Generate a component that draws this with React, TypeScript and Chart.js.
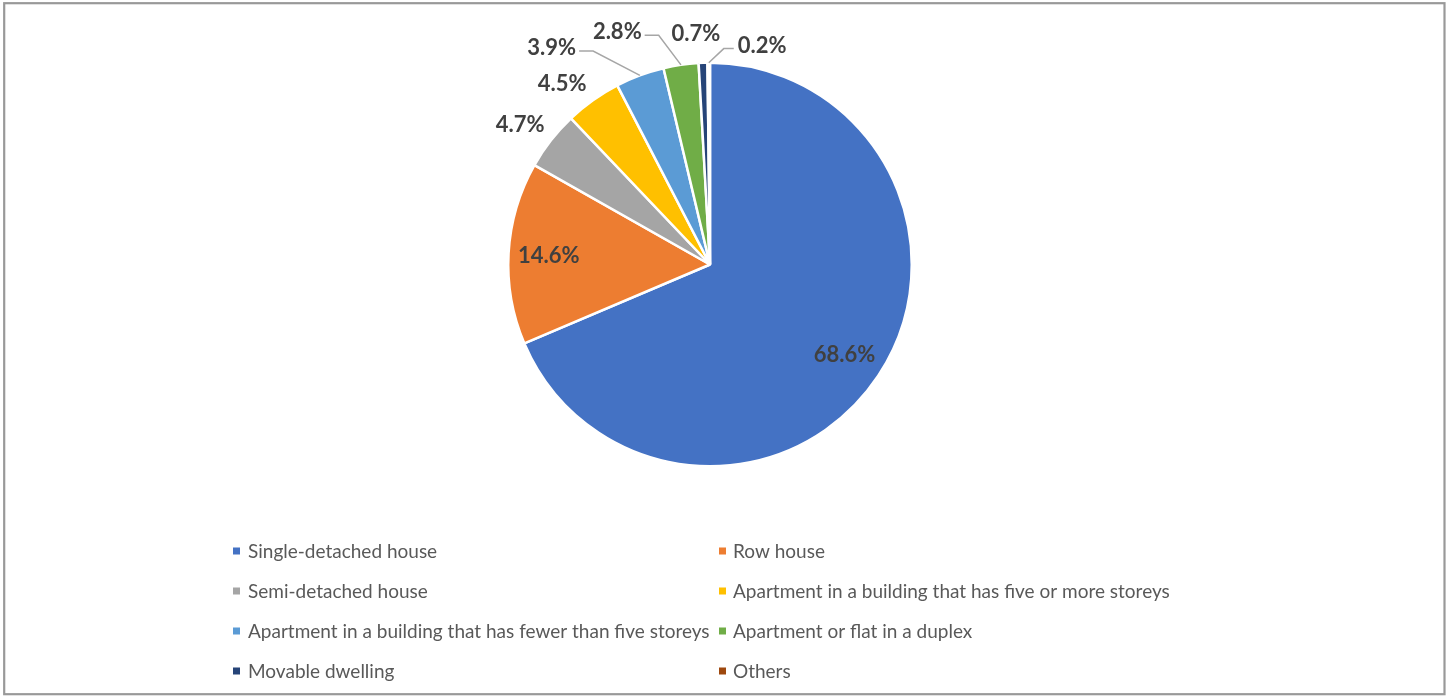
import React, { useEffect, useRef } from "react";
import { Chart, registerables } from "chart.js";

Chart.register(...registerables);

const categories: string[] = [
  "Single-detached house",
  "Row house",
  "Semi-detached house",
  "Apartment in a building that has five or more storeys",
  "Apartment in a building that has fewer than five storeys",
  "Apartment or flat in a duplex",
  "Movable dwelling",
  "Others",
];
const shares: number[] = [68.6, 14.6, 4.7, 4.5, 3.9, 2.8, 0.7, 0.2];
const colors: string[] = [
  "#4472C4",
  "#ED7D31",
  "#A5A5A5",
  "#FFC000",
  "#5B9BD5",
  "#70AD47",
  "#264478",
  "#9E480E",
];

// label placement (style/layout): inside fraction of radius, or outside with angle nudge (deg) and distance (px)
type LabelPlace =
  | { mode: "in"; frac: number }
  | { mode: "out"; nudge: number; dist: number; leader?: "left" | "right" };
const labelPlaces: LabelPlace[] = [
  { mode: "in", frac: 0.8 },
  { mode: "in", frac: 0.8 },
  { mode: "out", nudge: -1.5, dist: 236 },
  { mode: "out", nudge: -3.7, dist: 234 },
  { mode: "out", nudge: -15.7, dist: 269, leader: "left" },
  { mode: "out", nudge: -13.4, dist: 251, leader: "left" },
  { mode: "out", nudge: -1.5, dist: 232 },
  { mode: "out", nudge: 13.7, dist: 226, leader: "right" },
];

const LABEL_FONT = "bold 22px Lato, 'Open Sans', sans-serif";
const LEGEND_FONT = "19px Lato, 'Open Sans', sans-serif";

const labelPlugin = {
  id: "pieLabels",
  afterDatasetsDraw(chart: any) {
    const ctx = chart.ctx as CanvasRenderingContext2D;
    const meta = chart.getDatasetMeta(0);
    const data = chart.data.datasets[0].data as number[];
    ctx.save();
    ctx.font = LABEL_FONT;
    ctx.textBaseline = "middle";
    ctx.textAlign = "center";
    meta.data.forEach((arc: any, i: number) => {
      const { x, y, startAngle, endAngle, outerRadius } = arc.getProps(
        ["x", "y", "startAngle", "endAngle", "outerRadius"],
        true
      );
      const mid = (startAngle + endAngle) / 2;
      const text = data[i].toFixed(1) + "%";
      const p = labelPlaces[i];
      let tx: number, ty: number;
      if (p.mode === "in") {
        tx = x + Math.cos(mid) * outerRadius * p.frac;
        ty = y + Math.sin(mid) * outerRadius * p.frac;
      } else {
        const a = mid + (p.nudge * Math.PI) / 180;
        tx = x + Math.cos(a) * p.dist;
        ty = y + Math.sin(a) * p.dist;
        if (p.leader) {
          const w = ctx.measureText(text).width;
          const ax = x + Math.cos(mid) * outerRadius;
          const ay = y + Math.sin(mid) * outerRadius;
          const ly = ty + 4;
          const sx = p.leader === "left" ? tx + w / 2 + 3 : tx - w / 2 - 4;
          const ex = p.leader === "left" ? sx + 14 : sx - 10;
          ctx.strokeStyle = "#A6A6A6";
          ctx.lineWidth = 1.5;
          ctx.beginPath();
          ctx.moveTo(sx, ly);
          ctx.lineTo(ex, ly);
          ctx.lineTo(ax, ay);
          ctx.stroke();
        }
      }
      ctx.fillStyle = "#404040";
      ctx.fillText(text, tx, ty + 1);
    });
    ctx.restore();
  },
  afterDraw(chart: any) {
    const ctx = chart.ctx as CanvasRenderingContext2D;
    ctx.save();
    // legend
    ctx.font = LEGEND_FONT;
    ctx.textBaseline = "middle";
    ctx.textAlign = "left";
    const colX = [233, 719];
    const textX = [248, 733];
    categories.forEach((name, i) => {
      const row = Math.floor(i / 2);
      const col = i % 2;
      const cy = 551 + row * 40;
      ctx.fillStyle = colors[i];
      ctx.fillRect(colX[col], cy - 3.5, 7, 7);
      ctx.fillStyle = "#595959";
      ctx.fillText(name, textX[col], cy + 1);
    });
    // frame
    ctx.strokeStyle = "#999999";
    ctx.lineWidth = 2.2;
    ctx.strokeRect(4.2, 3.2, 1440.3, 691);
    ctx.restore();
  },
};

export default function App() {
  const ref = useRef<HTMLCanvasElement>(null);
  useEffect(() => {
    if (!ref.current) return;
    const chart = new Chart(ref.current, {
      type: "pie",
      data: {
        labels: categories,
        datasets: [
          {
            data: shares,
            backgroundColor: colors,
            borderColor: "#FFFFFF",
            borderWidth: 2.5,
          },
        ],
      },
      options: {
        animation: false,
        responsive: false,
        layout: { padding: { left: 507, right: 536, top: 61.5, bottom: 228.5 } },
        plugins: {
          legend: { display: false },
          tooltip: { enabled: false },
        },
        events: [],
      },
      plugins: [labelPlugin],
    });
    return () => chart.destroy();
  }, []);
  return (
    <div
      style={{
        position: "fixed",
        left: 0,
        top: 0,
        width: 1449,
        height: 696,
        background: "#FFFFFF",
      }}
    >
      <canvas ref={ref} width={1449} height={696} />
    </div>
  );
}
